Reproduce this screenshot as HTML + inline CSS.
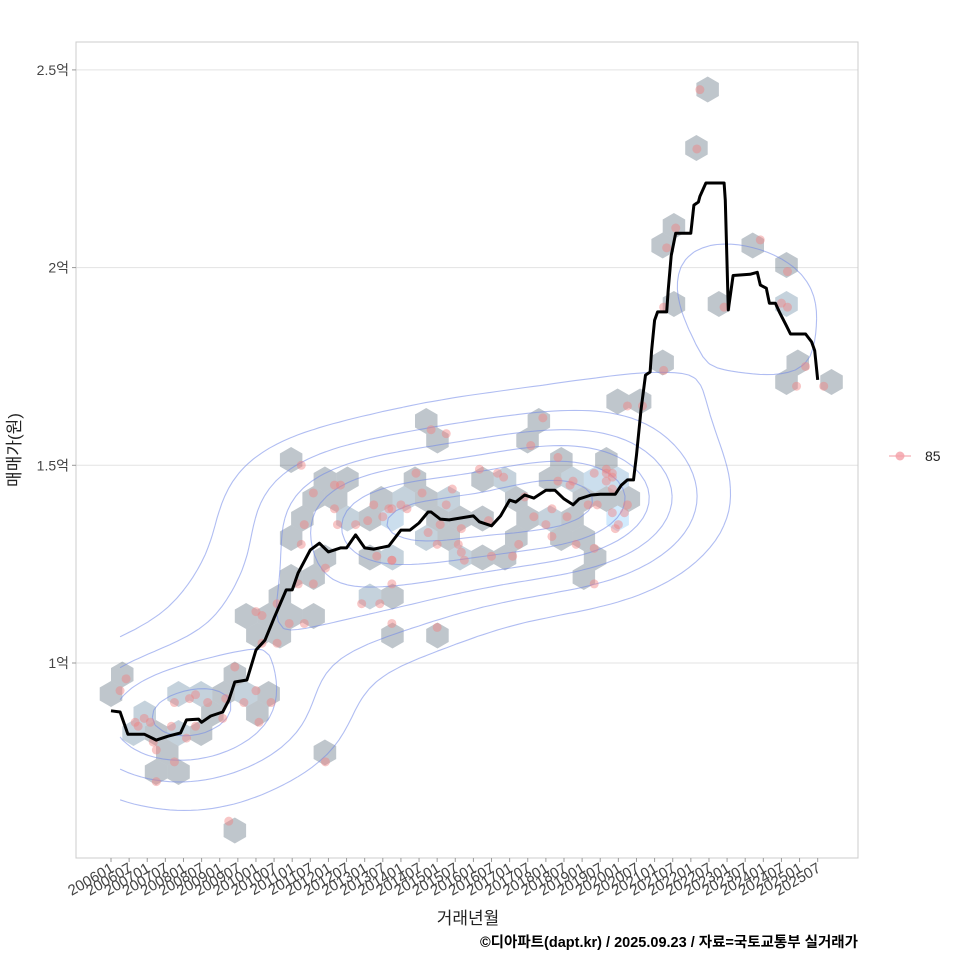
<!DOCTYPE html>
<html><head><meta charset="utf-8"><style>
html,body{margin:0;padding:0;background:#fff;}
svg{display:block;font-family:"Liberation Sans","Noto Sans CJK KR",sans-serif;}
</style></head><body>
<svg id="chart" width="960" height="960" viewBox="0 0 960 960">
<rect x="0" y="0" width="960" height="960" fill="#fff"/>
<g id="grid"></g>
<g id="hexes"></g>
<g id="contours"></g>
<g id="points"></g>
<g id="line"></g>
<rect x="76" y="42" width="782" height="816" fill="none" stroke="#cccccc" stroke-width="1"/>
<g id="yaxis"></g>
<g id="xaxis"></g>
<text x="20" y="450" transform="rotate(-90 20 450)" text-anchor="middle" font-size="17" fill="#222">매매가(원)</text>
<text x="468" y="924" text-anchor="middle" font-size="17" fill="#222">거래년월</text>
<text x="858" y="947" text-anchor="end" font-size="14.5" font-weight="bold" fill="#000">©디아파트(dapt.kr) / 2025.09.23 / 자료=국토교통부 실거래가</text>
<g>
<g>
<line x1="889" y1="456" x2="911" y2="456" stroke="#f4a0a8" stroke-width="1.5" opacity="0.7"/>
<circle cx="900" cy="456" r="4.5" fill="#f4a0a8" opacity="0.8"/>
<text x="925" y="461" font-size="14" fill="#222">85</text>
</g>
</g>
</svg>
<script>
// ---- data (t = months since 2006-01, values in 억원) ----
const xTickLabels = ["200601","200607","200701","200707","200801","200807","200901","200907","201001","201007","201101","201107","201201","201207","201301","201307","201401","201407","201501","201507","201601","201607","201701","201707","201801","201807","201901","201907","202001","202007","202101","202107","202201","202207","202301","202307","202401","202407","202501","202507"];
const yTickValues = [1, 1.5, 2, 2.5];
const yTickLabels = ["1억", "1.5억", "2억", "2.5억"];
const lineMonths = [0,3,5.6,11,15,19,23,25,29,30,33,37,39,41,45,48,51,54,58,60,62,66,69,72,76,78,81,84,87,92,96,99,102,105,106,109,112,116,120,122,126,129,132,134,137,140,144,147,150,153,155,159,162,167,169,171,173,174,175.5,177,178.5,179,180,181,184,184.5,185.5,187,192,193,194.5,195,197,203,203.4,204.4,206,211.6,214,215,217,218,220,221.5,223.5,225,230,232,233,234];
const lineValues = [0.879,0.876,0.82,0.82,0.805,0.815,0.823,0.856,0.858,0.85,0.866,0.876,0.906,0.952,0.957,1.033,1.058,1.114,1.185,1.185,1.228,1.286,1.303,1.281,1.291,1.291,1.324,1.291,1.288,1.296,1.336,1.336,1.354,1.382,1.382,1.364,1.362,1.367,1.372,1.357,1.347,1.372,1.412,1.407,1.425,1.417,1.437,1.437,1.415,1.400,1.415,1.425,1.427,1.427,1.45,1.463,1.463,1.526,1.64,1.728,1.736,1.79,1.867,1.888,1.888,1.943,2.03,2.087,2.087,2.158,2.166,2.18,2.214,2.214,2.17,1.893,1.98,1.983,1.988,1.956,1.948,1.91,1.91,1.885,1.855,1.832,1.832,1.812,1.79,1.716];
const pointMonths = [5,3,8,9,11,13,14,15,21,15,20,21,25,26,28,28,32,38,37,44,49,53,48,41,71,39,48,50,55,59,64,55,50,67,71,62,63,64,74,67,74,76,75,81,85,90,87,93,88,93,83,89,93,93,63,106,111,101,103,92,96,98,113,111,105,109,108,116,115,116,117,93,122,128,130,125,126,133,135,137,140,144,146,146,139,143,148,148,152,153,151,154,160,160,164,166,166,166,158,161,171,170,166,168,167,160,171,183,195,194,187,184,183,203,215,224,222,224,230,227,236,176,164,164,108];
const pointValues = [0.96,0.93,0.85,0.84,0.86,0.85,0.80,0.78,0.75,0.70,0.84,0.90,0.81,0.91,0.92,0.84,0.90,0.91,0.86,0.90,0.85,0.90,0.93,0.99,0.75,0.60,1.13,1.12,1.15,1.10,1.10,1.05,1.05,1.20,1.24,1.20,1.30,1.35,1.39,1.43,1.45,1.45,1.35,1.35,1.36,1.37,1.40,1.39,1.27,1.26,1.15,1.15,1.20,1.10,1.50,1.59,1.58,1.48,1.43,1.39,1.40,1.39,1.44,1.40,1.33,1.35,1.30,1.34,1.30,1.28,1.26,1.26,1.49,1.48,1.47,1.36,1.27,1.27,1.30,1.42,1.37,1.35,1.32,1.39,1.55,1.62,1.52,1.46,1.45,1.46,1.37,1.30,1.29,1.48,1.49,1.47,1.48,1.44,1.40,1.40,1.40,1.38,1.38,1.35,1.34,1.20,1.65,1.74,2.45,2.30,2.10,2.05,1.90,1.90,2.07,1.99,1.91,1.90,1.75,1.70,1.70,1.65,1.48,1.46,1.09];

// ---- scales ----
const X0 = 111, XPM = 3.02;
function xs(t){ return X0 + t * XPM; }
function ys(v){ return 663 - (v - 1) * 395.4; }
const NS = "http://www.w3.org/2000/svg";
function mk(tag, parent, attrs){ const e = document.createElementNS(NS, tag); for (const k in attrs) e.setAttribute(k, attrs[k]); parent.appendChild(e); return e; }

const grid = document.getElementById('grid'), yax = document.getElementById('yaxis'), xax = document.getElementById('xaxis');
yTickValues.forEach((v, i) => {
  const g = mk('line', grid, {x1:76, x2:858, y1:ys(v), y2:ys(v), stroke:'#e3e3e3', 'stroke-width':1});
  
  
  const tk = mk('line', yax, {x1:72, x2:76, y1:ys(v), y2:ys(v), stroke:'#999'});
  
  
  const tx = mk('text', yax, {x:69, y:ys(v) + 5, 'text-anchor':'end', 'font-size':14, fill:'#444'});
  tx.textContent = yTickLabels[i];
  
  
});
xTickLabels.forEach((lab, i) => {
  const x = xs(i * 6);
  const tk = mk('line', xax, {x1:x, x2:x, y1:858, y2:862, stroke:'#999'});
  
  
  const tx = mk('text', xax, {x:x + 4, y:871, 'text-anchor':'end', 'font-size':15, fill:'#444', transform:'rotate(-30 ' + (x + 4) + ' 871)'});
  tx.textContent = lab;
  
  
});

// hexbin (pixel space)
const R = 13, HW = Math.sqrt(3) * R, HH = 1.5 * R, HX0 = 111, HY0 = 70;
const bins = {};
pointMonths.forEach((t, i) => {
  const px = xs(t), py = ys(pointValues[i]);
  let best = null, bd = 1e9;
  const r0 = Math.round((py - HY0) / HH);
  for (let r = r0 - 1; r <= r0 + 1; r++) {
    const off = (r & 1) ? HW / 2 : 0;
    const c0 = Math.round((px - HX0 - off) / HW);
    for (let c = c0 - 1; c <= c0 + 1; c++) {
      const cx = HX0 + off + c * HW, cy = HY0 + r * HH;
      const d = (cx - px) ** 2 + (cy - py) ** 2;
      if (d < bd) { bd = d; best = [r, c, cx, cy]; }
    }
  }
  const key = best[0] + ',' + best[1];
  if (!bins[key]) bins[key] = {cx: best[2], cy: best[3], n: 0};
  bins[key].n++;
});
const hexG = document.getElementById('hexes');
let maxN = 1; Object.values(bins).forEach(b => { if (b.n > maxN) maxN = b.n; });
Object.values(bins).forEach(b => {
  const f = maxN > 1 ? (b.n - 1) / (maxN - 1) : 0;
  const c1 = [19,43,67], c2 = [86,177,247];
  const col = 'rgb(' + c1.map((c, k) => Math.round(c + (c2[k] - c) * f)).join(',') + ')';
  let pts = [];
  for (let k = 0; k < 6; k++) { const a = Math.PI / 180 * (60 * k - 90); pts.push((b.cx + R * Math.cos(a)).toFixed(1) + ',' + (b.cy + R * Math.sin(a)).toFixed(1)); }
  const h = mk('polygon', hexG, {points: pts.join(' '), fill: col, 'fill-opacity': 0.27});
  
  
});

// 2D KDE contours
(function(){
  const n = pointMonths.length;
  function sd(a){ const m = a.reduce((s, x) => s + x, 0) / a.length; return Math.sqrt(a.reduce((s, x) => s + (x - m) ** 2, 0) / (a.length - 1)); }
  function iqr(a){ const s = [...a].sort((p, q) => p - q); const q = p => { const h = (s.length - 1) * p, l = Math.floor(h); return s[l] + (h - l) * ((s[l + 1] ?? s[l]) - s[l]); }; return q(0.75) - q(0.25); }
  const bw = a => 1.06 * Math.min(sd(a), iqr(a) / 1.34) * Math.pow(n, -0.2);
  const hx = bw(pointMonths), hy = bw(pointValues);
  const tmin = Math.min(...pointMonths), tmax = Math.max(...pointMonths);
  const vmin = Math.min(...pointValues), vmax = Math.max(...pointValues);
  const G = 100, gx = [], gy = [];
  for (let i = 0; i < G; i++) { gx.push(tmin + (tmax - tmin) * i / (G - 1)); gy.push(vmin + (vmax - vmin) * i / (G - 1)); }
  const D = [];
  let dmax = 0;
  for (let j = 0; j < G; j++) { D.push([]); for (let i = 0; i < G; i++) {
    let s = 0;
    for (let k = 0; k < n; k++) { const a = (gx[i] - pointMonths[k]) / hx, b = (gy[j] - pointValues[k]) / hy; s += Math.exp(-0.5 * (a * a + b * b)); }
    s /= (n * 2 * Math.PI * hx * hy); D[j].push(s); if (s > dmax) dmax = s; } }
  const raw = dmax / 7, p = Math.pow(10, Math.floor(Math.log10(raw))), m = raw / p;
  const step = (m < 1.5 ? 1 : m < 3 ? 2 : m < 7 ? 5 : 10) * p;
  const cg = document.getElementById('contours');
  for (let lev = step; lev < dmax; lev += step) {
    let d = '';
    for (let j = 0; j < G - 1; j++) for (let i = 0; i < G - 1; i++) {
      const v = [D[j][i], D[j][i + 1], D[j + 1][i + 1], D[j + 1][i]];
      const P = [[gx[i], gy[j]], [gx[i + 1], gy[j]], [gx[i + 1], gy[j + 1]], [gx[i], gy[j + 1]]];
      const cr = [];
      for (let e = 0; e < 4; e++) { const a = v[e], b = v[(e + 1) % 4];
        if ((a < lev) !== (b < lev)) { const f = (lev - a) / (b - a), A = P[e], B = P[(e + 1) % 4];
          cr.push([xs(A[0] + (B[0] - A[0]) * f), ys(A[1] + (B[1] - A[1]) * f)]); } }
      for (let q = 0; q + 1 < cr.length; q += 2) d += 'M' + cr[q][0].toFixed(1) + ' ' + cr[q][1].toFixed(1) + 'L' + cr[q + 1][0].toFixed(1) + ' ' + cr[q + 1][1].toFixed(1);
    }
    const pa = mk('path', cg, {d: d, fill: 'none', stroke: '#6f86e8', 'stroke-opacity': 0.55, 'stroke-width': 1.1});
    
    
  }
})();

const pg = document.getElementById('points');
pointMonths.forEach((t, i) => {
  const c = mk('circle', pg, {cx: xs(t), cy: ys(pointValues[i]), r: 4.5, fill: '#f08080', 'fill-opacity': 0.45});
  
  
});

const lg = document.getElementById('line');
const ld = lineMonths.map((t, i) => (i ? 'L' : 'M') + xs(t).toFixed(1) + ' ' + ys(lineValues[i]).toFixed(1)).join('');
const lp = mk('path', lg, {d: ld, fill: 'none', stroke: '#000', 'stroke-width': 3, 'stroke-linejoin': 'round'});


</script>
</body></html>
